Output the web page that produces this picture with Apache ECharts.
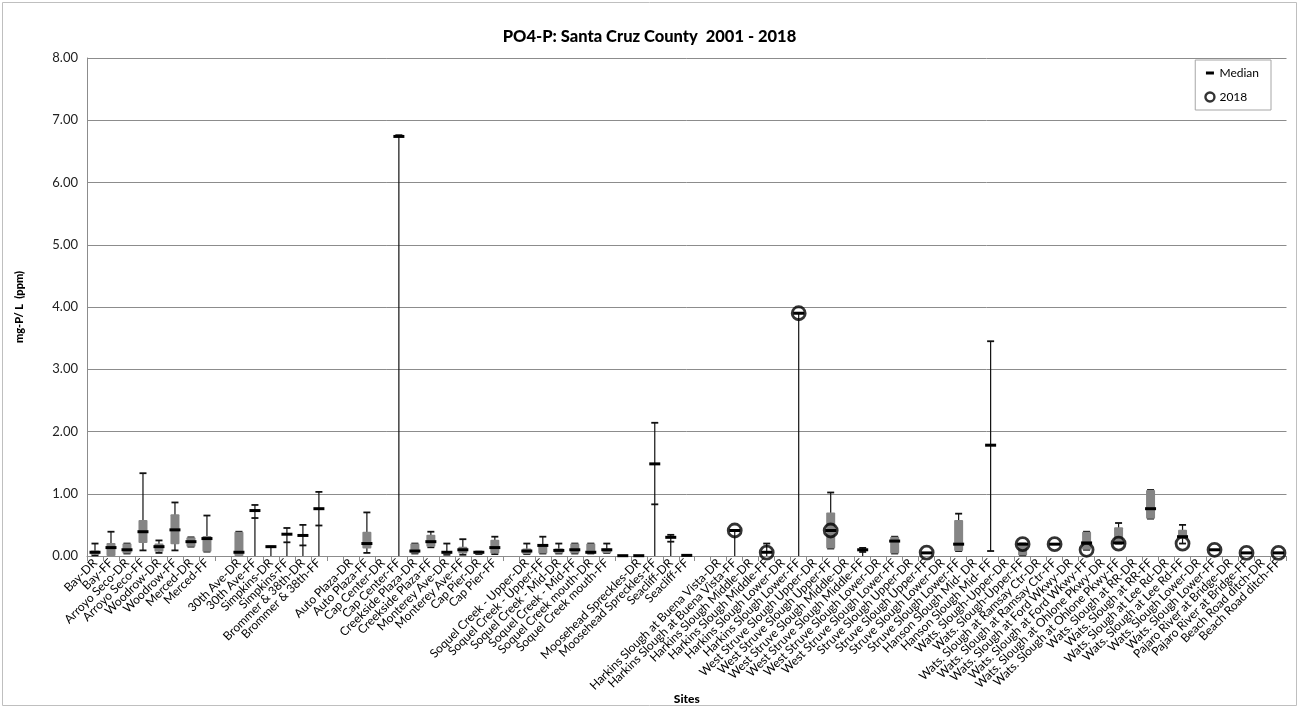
<!DOCTYPE html>
<html>
<head>
<meta charset="utf-8">
<script src="https://cdn.jsdelivr.net/npm/echarts@6/dist/echarts.min.js"></script>
<style>html,body{margin:0;padding:0;background:#fff}#c{width:1299px;height:708px}</style>
</head>
<body>
<div id="c"></div>
<script>
const categories = ['Bay-DR','Bay-FF','Arroyo Seco-DR','Arroyo Seco-FF','Woodrow-DR','Woodrow-FF','Merced-DR','Merced-FF','',
'30th Ave-DR','30th Ave-FF','Simpkins-DR','Simpkins-FF','Brommer & 38th-DR','Brommer & 38th-FF','',
'Auto Plaza-DR','Auto Plaza-FF','Cap Center-DR','Cap Center-FF','Creekside Plaza-DR','Creekside Plaza-FF','Monterey Ave-DR','Monterey Ave-FF','Cap Pier-DR','Cap Pier-FF','',
'Soquel Creek - Upper-DR','Soquel Creek - Upper-FF','Soquel Creek - Mid-DR','Soquel Creek - Mid-FF','Soquel Creek mouth-DR','Soquel Creek mouth-FF','',
'Moosehead Spreckles-DR','Moosehead Spreckles-FF','Seacliff-DR','Seacliff-FF','',
'Harkins Slough at Buena Vista-DR','Harkins Slough at Buena Vista-FF','Harkins Slough Middle-DR','Harkins Slough Middle-FF','Harkins Slough Lower-DR','Harkins Slough Lower-FF',
'West Struve Slough Upper-DR','West Struve Slough Upper-FF','West Struve Slough Middle-DR','West Struve Slough Middle-FF','West Struve Slough Lower-DR','West Struve Slough Lower-FF',
'Struve Slough Upper-DR','Struve Slough Upper-FF','Struve Slough Lower-DR','Struve Slough Lower-FF','Hanson Slough Mid- DR','Hanson Slough Mid- FF',
'Wats. Slough-Upper-DR','Wats. Slough-Upper-FF','Wats. Slough at Ramsay Ctr-DR','Wats. Slough at Ramsay Ctr-FF','Wats. Slough at Ford Wkwy-DR','Wats. Slough at Ford Wkwy-FF',
'Wats. Slough at Ohlone Pkwy-DR','Wats. Slough at Ohlone Pkwy-FF','Wats. Slough at RR-DR','Wats. Slough at RR-FF','Wats. Slough at Lee Rd-DR','Wats. Slough at Lee Rd-FF',
'Wats. Slough Lower-DR','Wats. Slough Lower-FF','Pajaro River at Bridge-DR','Pajaro River at Bridge-FF','Beach Road ditch-DR','Beach Road ditch-FF'];

const N = null;
// whisker bottom (min)
const minV = [0.01,0,0.04,0.09,0.05,0.09,0.15,0.07,N, 0,0,0,0,0,0,N, N,0.05,N,0,0.04,0.14,0.02,0.02,0.03,0.03,N,
 0.03,0.04,0.04,0.04,0.04,0.05,N, N,0,0,N,N, N,0,N,0,N,0, N,0.12,N,0,N,0.04, N,N,N,0.08,N,0.08,
 N,0.01,N,N,N,0.1, N,0.2,N,0.6,N,0.2, N,N,N,N,N,N];
// lower quartile (box bottom)
const q1V = [0.02,0,0.04,0.21,0.07,0.19,0.15,0.07,N, 0,N,N,N,N,N,N, N,0.12,N,N,0.04,0.15,0.03,0.04,0.03,0.04,N,
 0.03,0.04,0.04,0.04,0.04,0.05,N, N,N,N,N,N, N,N,N,N,N,N, N,0.12,N,N,N,0.04, N,N,N,0.08,N,N,
 N,0.01,N,N,N,0.1, N,0.2,N,0.6,N,0.28, N,N,N,N,N,N];
// median
const medV = [0.06,0.135,0.1,0.39,0.15,0.42,0.23,0.28,N, 0.06,0.73,0.15,0.35,0.33,0.76,N, N,0.2,N,6.74,0.08,0.23,0.06,0.1,0.06,0.135,N,
 0.08,0.17,0.09,0.1,0.06,0.1,0.005, 0.005,1.48,0.3,0.01,N, N,0.41,N,0.06,N,3.9, N,0.41,N,0.1,N,0.24, N,0.05,N,0.19,N,1.78,
 N,0.19,N,0.19,N,0.21, N,0.21,N,0.76,N,0.31, N,0.1,N,0.05,N,0.05];
// upper quartile (box top)
const q3V = [0.09,0.21,0.2,0.58,0.2,0.67,0.3,0.32,N, 0.39,N,N,N,N,N,N, N,0.39,N,N,0.2,0.34,0.08,0.15,0.07,0.26,N,
 0.12,0.18,0.12,0.2,0.2,0.12,N, N,N,N,N,N, N,N,N,N,N,N, N,0.7,N,N,N,0.31, N,N,N,0.58,N,N,
 N,0.2,N,N,N,0.39, N,0.46,N,1.06,N,0.42, N,N,N,N,N,N];
// whisker top (max)
const maxV = [0.2,0.39,0.2,1.33,0.25,0.86,0.3,0.65,N, 0.39,0.82,0.15,0.45,0.5,1.03,N, N,0.7,N,6.76,0.2,0.39,0.2,0.27,0.07,0.31,N,
 0.2,0.31,0.2,0.2,0.2,0.2,N, N,2.14,0.34,N,N, N,0.41,N,0.2,N,3.9, N,1.02,N,0.13,N,0.31, N,N,N,0.68,N,3.45,
 N,0.2,N,N,N,0.39, N,0.53,N,1.06,N,0.5, N,N,N,N,N,N];
// secondary tick on whisker
const tickV = [N,N,N,N,N,N,N,N,N, N,0.61,N,0.22,0.17,0.49,N, N,N,N,N,N,N,N,N,N,N,N,
 N,N,N,N,N,N,N, N,0.83,0.23,N,N, N,N,N,N,N,N, N,N,N,0.065,N,N, N,N,N,N,N,N,
 N,N,N,N,N,N, N,N,N,N,N,N, N,N,N,N,N,N];
// 2018 values
const v2018 = [N,N,N,N,N,N,N,N,N, N,N,N,N,N,N,N, N,N,N,N,N,N,N,N,N,N,N,
 N,N,N,N,N,N,N, N,N,N,N,N, N,0.41,N,0.055,N,3.9, N,0.41,N,N,N,N, N,0.055,N,N,N,N,
 N,0.19,N,0.19,N,0.1, N,0.2,N,N,N,0.2, N,0.1,N,0.05,N,0.05];
const yTicks = [0,1,2,3,4,5,6,7,8];

const FONT = 'Lato, "Open Sans", sans-serif';
const chart = echarts.init(document.getElementById('c'), null, {renderer:'canvas'});

function renderBox(params, api) {
  const i = params.dataIndex;
  const m = medV[i];
  if (m == null) return null;
  const x = api.coord([i, 0])[0];
  const Y = v => api.coord([i, v])[1];
  const ch = [];
  const ink = '#111';
  if (minV[i] != null && maxV[i] != null) {
    ch.push({type:'line', shape:{x1:x, y1:Y(minV[i]), x2:x, y2:Y(maxV[i])}, style:{stroke:ink, lineWidth:1.2}});
  }
  const cap = v => ch.push({type:'line', shape:{x1:x-3.5, y1:Y(v), x2:x+3.5, y2:Y(v)}, style:{stroke:ink, lineWidth:1.8}});
  if (maxV[i] != null) cap(maxV[i]);
  if (minV[i] != null && minV[i] > 0) cap(minV[i]);
  if (tickV[i] != null) cap(tickV[i]);
  if (q1V[i] != null && q3V[i] != null) {
    const yt = Y(q3V[i]), yb = Y(q1V[i]);
    ch.push({type:'rect', shape:{x:x-4.5, y:yt, width:9, height:Math.max(1, yb-yt), r:1}, style:{fill:'#858585'}});
  }
  ch.push({type:'rect', shape:{x:x-5.5, y:Y(m)-1.5, width:11, height:3}, style:{fill:'#000'}});
  return {type:'group', children:ch};
}

const option = {
  animation:false,
  backgroundColor:'#fff',
  title:{text:'PO4-P: Santa Cruz County  2001 - 2018', left:'center', top:23,
    textStyle:{fontFamily:FONT, fontSize:16.5, fontWeight:900, color:'#000'}},
  legend:{orient:'vertical', right:28, top:60, itemWidth:9, itemHeight:10, itemGap:12,
    padding:[7,12,7,9], borderColor:'#a6a6a6', borderWidth:1, backgroundColor:'#fff',
    textStyle:{fontFamily:FONT, fontSize:12, color:'#000'},
    data:[
      {name:'Median', icon:'path://M0 0L0.01 0L0.01 0.01Z M0 3.6L8 3.6L8 6.4L0 6.4Z M0 10L0.01 10L0.01 9.99Z', itemStyle:{color:'#000'}},
      {name:'2018', icon:'circle', itemStyle:{color:'rgba(0,0,0,0)', borderColor:'#000', borderWidth:2.4}}
    ]},
  grid:{left:87, right:12.5, top:58, bottom:152, containLabel:false, outerBoundsMode:'none'},
  xAxis:{type:'category', data:categories, boundaryGap:true,
    name:'Sites', nameLocation:'middle', nameGap:137, nameMoveOverlap:false,
    nameTextStyle:{fontFamily:FONT, fontSize:12, fontWeight:900, color:'#000'},
    axisLine:{lineStyle:{color:'#8c8c8c', width:1}},
    axisTick:{show:true, length:5, lineStyle:{color:'#8c8c8c'}},
    axisLabel:{interval:0, rotate:45, margin:5, fontFamily:FONT, fontSize:12, color:'#000'},
    splitLine:{show:false}},
  yAxis:{type:'value', min:yTicks[0], max:yTicks[yTicks.length-1], interval:1,
    name:'mg-P/ L  (ppm)', nameLocation:'middle', nameGap:62, nameRotate:90, nameMoveOverlap:false,
    nameTextStyle:{fontFamily:FONT, fontSize:11, fontWeight:900, color:'#000'},
    axisLine:{show:true, lineStyle:{color:'#8c8c8c'}},
    axisTick:{show:false},
    axisLabel:{formatter:v=>v.toFixed(2), margin:9, fontFamily:FONT, fontSize:13, color:'#222'},
    splitLine:{lineStyle:{color:'#8c8c8c', width:1}}},
  series:[
    {name:'Median', type:'custom', renderItem:renderBox, itemStyle:{color:'#000'},
      encode:{x:0, y:1}, z:2,
      data:categories.map((c,i)=>[i, medV[i]==null?0:medV[i]])},
    {name:'2018', type:'scatter', symbol:'circle', symbolSize:13, z:3,
      itemStyle:{color:'rgba(0,0,0,0)', borderColor:'#000', borderWidth:2.8},
      data:v2018.map(v=>v==null?'-':v)}
  ],
  graphic:[{type:'rect', shape:{x:2.5, y:2.5, width:1294, height:703}, style:{fill:'none', stroke:'#bfbfbf', lineWidth:1}, silent:true, z:-1}]
};
chart.setOption(option);
</script>
</body>
</html>
